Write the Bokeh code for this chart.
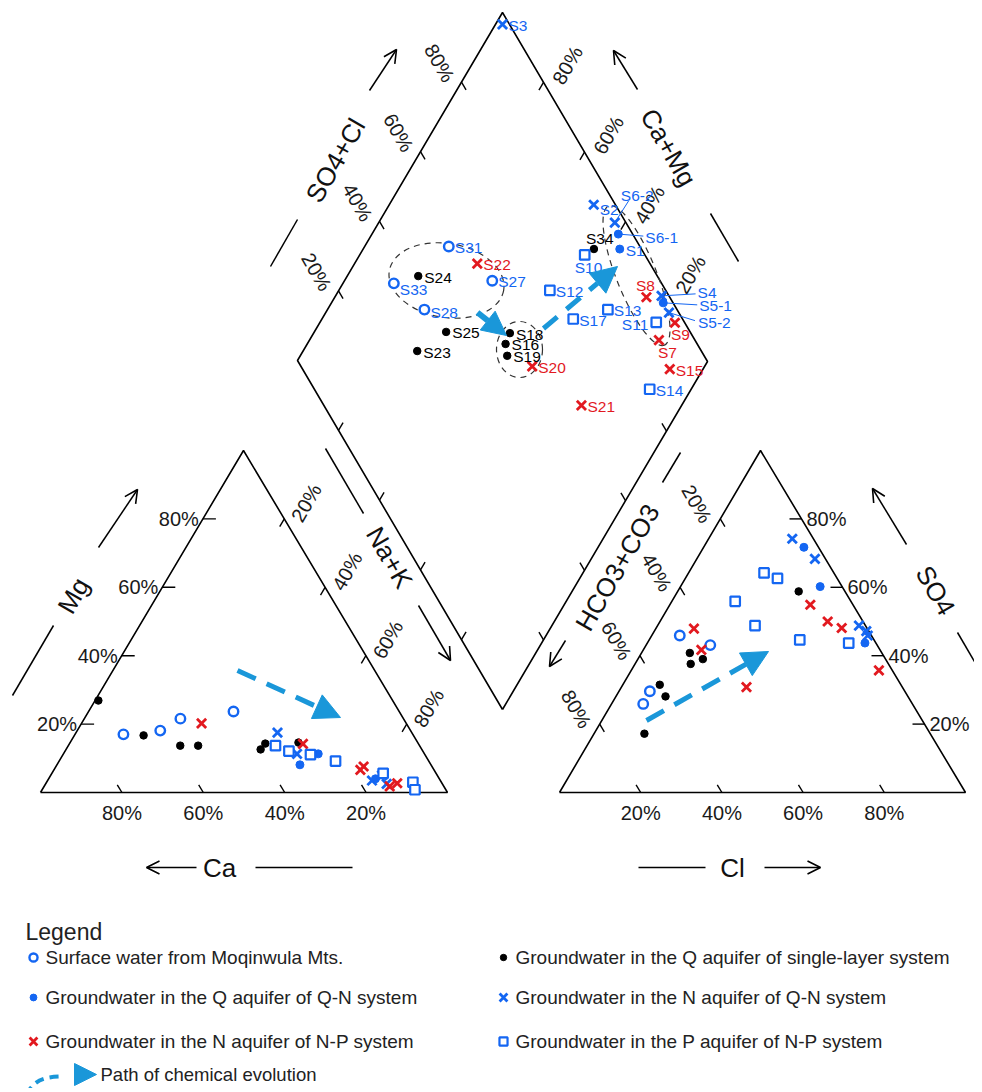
import math
import numpy as np
from bokeh.plotting import figure
from bokeh.models import Range1d, Arrow, NormalHead, OpenHead
from bokeh.core.properties import value
from bokeh.embed import file_html
from bokeh.resources import INLINE

# ---------------- data ----------------
group_keys = ["surface", "q_single", "q_qn", "n_qn", "n_np", "p_np"]
group_names = {
    "surface": "Surface water from Moqinwula Mts.",
    "q_single": "Groundwater in the Q aquifer of single-layer system",
    "q_qn": "Groundwater in the Q aquifer of Q-N system",
    "n_qn": "Groundwater in the N aquifer of Q-N system",
    "n_np": "Groundwater in the N aquifer of N-P system",
    "p_np": "Groundwater in the P aquifer of N-P system",
}

# cation triangle: Ca %, Mg % (Na+K = rest)
cation_ca = {
    "surface": [71.1, 61.5, 54.8, 40.7],
    "q_single": [72.3, 66.3, 58.8, 54.4, 39.6, 37.6, 29.3],
    "q_qn": [26.1, 32.2, 15.7],
    "n_qn": [33.0, 31.3, 16.8, 13.7, 13.6],
    "n_np": [50.3, 28.4, 18.1, 16.8, 13.3, 11.0],
    "p_np": [35.4, 32.9, 28.1, 22.9, 13.0, 7.0, 7.6],
}
cation_mg = {
    "surface": [17.0, 18.1, 21.6, 23.7],
    "q_single": [26.9, 16.7, 13.7, 13.7, 12.6, 14.3, 14.6],
    "q_qn": [11.3, 8.1, 4.0],
    "n_qn": [17.5, 11.3, 3.5, 2.5, 5.0],
    "n_np": [20.2, 14.2, 6.6, 7.6, 1.8, 2.7],
    "p_np": [13.7, 12.1, 11.1, 9.2, 5.6, 3.0, 0.8],
}

# anion triangle: Cl %, SO4 % (HCO3+CO3 = rest)
anion_cl = {
    "surface": [6.9, 15.8, 7.6, 7.8],
    "q_single": [29.8, 11.9, 16.0, 13.7, 9.1, 12.2, 12.4],
    "q_qn": [24.7, 34.4, 53.6],
    "n_qn": [20.6, 29.1, 49.6, 52.2, 53.2],
    "n_np": [9.4, 14.3, 30.8, 34.6, 41.3, 45.7, 61.0],
    "p_np": [18.6, 22.7, 15.6, 24.0, 37.1, 49.6],
}
anion_so4 = {
    "surface": [45.9, 43.1, 29.6, 25.9],
    "q_single": [58.8, 40.8, 39.0, 37.6, 31.5, 28.1, 17.2],
    "q_qn": [71.7, 60.2, 43.7],
    "n_qn": [74.2, 68.3, 48.8, 47.2, 45.9],
    "n_np": [47.9, 41.7, 30.8, 54.9, 50.0, 48.1, 35.7],
    "p_np": [64.2, 62.6, 55.9, 48.8, 44.6, 43.7],
}

# diamond: SO4+Cl %, Ca+Mg %
sample_labels = ["S1", "S2", "S3", "S4", "S5-1", "S5-2", "S6-1", "S6-2", "S7", "S8",
                 "S9", "S10", "S11", "S12", "S13", "S14", "S15", "S16", "S17", "S18",
                 "S19", "S20", "S21", "S22", "S23", "S24", "S25", "S27", "S28", "S31",
                 "S33", "S34"]
sample_groups = ["q_qn", "n_qn", "n_qn", "n_qn", "q_qn", "n_qn", "q_qn", "n_qn", "n_np", "n_np",
                 "n_np", "p_np", "p_np", "p_np", "p_np", "p_np", "n_np", "q_single", "p_np", "q_single",
                 "q_single", "n_np", "n_np", "n_np", "q_single", "q_single", "q_single", "surface", "surface", "surface",
                 "surface", "q_single"]
sample_so4cl = [94.7, 94.7, 98.3, 98.2, 97.6, 97.6, 96.5, 97.3, 91.2, 94.3,
                97.6, 85.3, 93.1, 71.7, 83.1, 81.9, 89.7, 53.2, 73.3, 55.8,
                51.9, 56.5, 62.9, 57.8, 30.6, 41.6, 40.4, 59.0, 38.3, 53.3,
                34.6, 88.4]
sample_camg = [37.5, 50.2, 98.3, 20.6, 19.2, 16.4, 40.0, 42.5, 14.9, 24.1,
               13.5, 45.2, 18.1, 48.6, 31.7, 10.1, 8.1, 51.7, 38.8, 52.2,
               49.6, 42.0, 24.4, 70.1, 72.2, 82.7, 67.9, 64.0, 76.4, 79.5,
               87.6, 43.8]

tick_values = [20, 40, 60, 80]
tick_texts = ["20%", "40%", "60%", "80%"]

# ---------------- styles / layout ----------------
BLUE = "#1466f2"
RED = "#e2191f"
ARROW_BLUE = "#1a97d9"
FONT = value("Liberation Sans")

STYLE = {
    "surface": dict(marker="circle", size=9.5, fill_color="white", line_color=BLUE, line_width=2.4),
    "q_single": dict(marker="circle", size=7.5, fill_color="black", line_color="black", line_width=1),
    "q_qn": dict(marker="circle", size=8, fill_color=BLUE, line_color=BLUE, line_width=1),
    "n_qn": dict(marker="x", size=13, fill_color=None, line_color=BLUE, line_width=2.8),
    "n_np": dict(marker="x", size=13, fill_color=None, line_color=RED, line_width=2.8),
    "p_np": dict(marker="square", size=9.5, fill_color="white", line_color=BLUE, line_width=2.2),
}
TEXT_COLOR = {"surface": BLUE, "q_single": "black", "q_qn": BLUE, "n_qn": BLUE, "n_np": RED, "p_np": BLUE}

# triangle / diamond vertices in page pixels
CA, NA, MG = (40, 792), (447, 792), (243, 450)
HC, CL, SO = (559, 792), (965, 792), (760, 450)
DB, DL, DR = (502, 709), (297, 360), (707, 361)
DT = (DL[0] + DR[0] - DB[0], DL[1] + DR[1] - DB[1])

W, H = 974, 1088
p = figure(width=W, height=H, x_range=Range1d(0, W), y_range=Range1d(-H, 0),
           output_backend="svg", toolbar_location=None, min_border=0,
           x_axis_location=None, y_axis_location=None)
p.grid.visible = False
p.outline_line_color = None
p.background_fill_color = "white"


def Y(v):
    return [-a for a in v] if isinstance(v, (list, tuple, np.ndarray)) else -v


def bary(wa, wb, wc, A, B, C):
    wa, wb, wc = np.asarray(wa, float), np.asarray(wb, float), np.asarray(wc, float)
    x = (wa * A[0] + wb * B[0] + wc * C[0]) / 100.0
    y = (wa * A[1] + wb * B[1] + wc * C[1]) / 100.0
    return x, y


def diamond(s, c):
    s, c = np.asarray(s, float) / 100.0, np.asarray(c, float) / 100.0
    x = DB[0] + s * (DR[0] - DB[0]) + c * (DL[0] - DB[0])
    y = DB[1] + s * (DR[1] - DB[1]) + c * (DL[1] - DB[1])
    return x, y


def unit(a, b):
    dx, dy = b[0] - a[0], b[1] - a[1]
    n = math.hypot(dx, dy)
    return dx / n, dy / n


def draw_markers(xs, ys, key):
    st = STYLE[key]
    p.scatter(list(xs), Y(list(ys)), **st)


# ---------------- frames ----------------
for verts in [(CA, NA, MG, CA), (HC, CL, SO, HC), (DB, DR, DT, DL, DB)]:
    p.line([v[0] for v in verts], Y([v[1] for v in verts]), line_color="black", line_width=1.6)

# ---------------- ticks and tick labels ----------------
tick_xs, tick_ys = [], []
lab = {"x": [], "y": [], "t": [], "a": [], "align": []}


def add_tick(pt, d, ln):
    tick_xs.append([pt[0], pt[0] + d[0] * ln])
    tick_ys.append(Y([pt[1], pt[1] + d[1] * ln]))


def add_label(x, y, t, ang, align="center"):
    lab["x"].append(x); lab["y"].append(-y); lab["t"].append(t)
    lab["a"].append(math.radians(ang)); lab["align"].append(align)


for v, t in zip(tick_values, tick_texts):
    w = 100 - v
    # Ca (base of left triangle)
    x, y = bary(v, w, 0, CA, NA, MG)
    add_tick((x, y), unit(NA, MG), 9)
    add_label(x, 812, t, 0)
    # Mg (left edge)
    x, y = bary(w, 0, v, CA, NA, MG)
    add_tick((x, y), (1, 0), 13)
    add_label(x - 4, y, t, 0, "right")
    # Na+K (right edge)
    x, y = bary(0, v, w, CA, NA, MG)
    add_tick((x, y), unit(MG, CA), 9)
    add_label(x + 22, y - 16, t, 60)
    # Cl (base of right triangle)
    x, y = bary(w, v, 0, HC, CL, SO)
    add_tick((x, y), unit(CL, SO), 9)
    add_label(x, 812, t, 0)
    # SO4 (right edge)
    x, y = bary(0, w, v, HC, CL, SO)
    add_tick((x, y), (-1, 0), 12)
    add_label(x + 5, y, t, 0, "left")
    # HCO3+CO3 (left edge)
    x, y = bary(v, 0, w, HC, CL, SO)
    add_tick((x, y), unit(SO, CL), 9)
    add_label(x - 23.5, y - 15, t, -60)
    # diamond upper-left: SO4+Cl
    x, y = diamond(v, 100)
    add_tick((x, y), unit(DL, DB), 9)
    add_label(x - 22, y - 19, t, -60)
    # diamond upper-right: Ca+Mg
    x, y = diamond(100, v)
    add_tick((x, y), unit(DR, DB), 9)
    add_label(x + 24, y - 17, t, 60)
    # diamond lower edges (ticks only)
    x, y = diamond(0, v)
    add_tick((x, y), unit(DB, DR), 9)
    x, y = diamond(v, 0)
    add_tick((x, y), unit(DB, DL), 9)

p.multi_line(tick_xs, tick_ys, line_color="black", line_width=1.4)
for al in ("center", "left", "right"):
    idx = [i for i, a in enumerate(lab["align"]) if a == al]
    if idx:
        p.text(x=[lab["x"][i] for i in idx], y=[lab["y"][i] for i in idx],
               text=[lab["t"][i] for i in idx], angle=[lab["a"][i] for i in idx],
               text_font=FONT, text_font_size="20px", text_align=al,
               text_baseline="middle", text_color="#1a1a1a")

# ---------------- axis titles with lines and arrows ----------------
titles = [
    ("Mg", (73, 595), 60, ((12, 695), (53, 625)), ((98, 547), (137, 489))),
    ("Na+K", (389, 557), -60, ((325, 448), (363, 513)), ((418, 605), (450, 660))),
    ("Ca", (219, 867), 0, ((255, 867), (352, 867)), ((196, 867), (146, 867))),
    ("Cl", (732, 867), 0, ((638, 867), (705, 867)), ((764, 867), (820, 867))),
    ("SO4+Cl", (335, 160), 60, ((270, 266), (297, 219)), ((369, 90), (396, 49))),
    ("Ca+Mg", (668, 147), -60, ((710, 213), (738, 261)), ((637, 89), (613, 50))),
    ("HCO3+CO3", (617, 567), 60, ((662, 482), (680, 452)), ((565, 640), (549, 666))),
    ("SO4", (935, 590), -60, ((957, 632), (985, 680)), ((906, 544), (872, 488))),
]
for txt, (cx, cy), ang, ln, ar in titles:
    p.text(x=[cx], y=[-cy], text=[txt], angle=[math.radians(ang)], text_font=FONT,
           text_font_size="26px", text_align="center", text_baseline="middle", text_color="#111111")
    p.line([ln[0][0], ln[1][0]], [-ln[0][1], -ln[1][1]], line_color="black", line_width=1.5)
    p.add_layout(Arrow(end=OpenHead(size=13, line_width=1.6, line_color="black"),
                       x_start=ar[0][0], y_start=-ar[0][1], x_end=ar[1][0], y_end=-ar[1][1],
                       line_color="black", line_width=1.5))

# ---------------- ellipses in diamond ----------------
p.ellipse(x=[446, 519, 636], y=[-280, -349, -275], width=[116, 46, 150], height=[74, 56, 40],
          angle=[-0.17, 0.0, -1.19], fill_color=None, line_color="#333333",
          line_width=1.2, line_dash="6 5")

# ---------------- evolution arrows ----------------
def dashed_arrow(x0, y0, x1, y1, head=26, dash="20 12", lw=5):
    p.add_layout(Arrow(end=NormalHead(size=head, fill_color=ARROW_BLUE, line_color=ARROW_BLUE),
                       x_start=x0, y_start=-y0, x_end=x1, y_end=-y1,
                       line_color=ARROW_BLUE, line_width=lw, line_dash=dash))

dashed_arrow(237, 670, 340, 717)
dashed_arrow(646, 720, 768, 651)
dashed_arrow(543, 328, 617, 266, head=26, dash="18 12")
p.add_layout(Arrow(end=NormalHead(size=24, fill_color=ARROW_BLUE, line_color=ARROW_BLUE),
                   x_start=477, y_start=-312, x_end=506, y_end=-335,
                   line_color=ARROW_BLUE, line_width=6))

# ---------------- points ----------------
for k in group_keys:
    ca = np.array(cation_ca[k]); mg = np.array(cation_mg[k])
    x, y = bary(ca, 100 - ca - mg, mg, CA, NA, MG)
    draw_markers(x, y, k)
    cl = np.array(anion_cl[k]); so4 = np.array(anion_so4[k])
    x, y = bary(100 - cl - so4, cl, so4, HC, CL, SO)
    draw_markers(x, y, k)

dx_all, dy_all = diamond(sample_so4cl, sample_camg)
for k in group_keys:
    idx = [i for i, g in enumerate(sample_groups) if g == k]
    draw_markers(dx_all[idx], dy_all[idx], k)

# sample labels
label_offsets = {
    "S2": (6, 5, "left"), "S6-2": (6, -27, "left"), "S6-1": (27, 3, "left"),
    "S34": (-8, -11, "left"), "S10": (-10, 13, "left"), "S11": (-8, 2, "right"),
    "S8": (-1, -12, "center"), "S4": (36, -3, "left"), "S5-1": (36, 3, "left"),
    "S5-2": (29, 10, "left"), "S9": (-4, 12, "left"), "S7": (-1, 12, "left"),
    "S33": (6, 6, "left"), "S28": (6, 3, "left"),
}
leaders = {"S6-2": (14, -22), "S6-1": (25, 2), "S4": (34, -2), "S5-1": (34, 2), "S5-2": (26, 8)}

lx, ly = [], []
for i, name in enumerate(sample_labels):
    if name in leaders:
        ox, oy = leaders[name]
        lx.append([dx_all[i], dx_all[i] + ox]); ly.append([-dy_all[i], -(dy_all[i] + oy)])
p.multi_line(lx, ly, line_color=BLUE, line_width=1)

for al in ("left", "right", "center"):
    xs, ys, ts, cs = [], [], [], []
    for i, name in enumerate(sample_labels):
        ox, oy, a = label_offsets.get(name, (6, 1, "left"))
        if a != al:
            continue
        xs.append(dx_all[i] + ox); ys.append(-(dy_all[i] + oy)); ts.append(name)
        cs.append(TEXT_COLOR[sample_groups[i]])
    if xs:
        p.text(x=xs, y=ys, text=ts, text_color=cs, text_font=FONT, text_font_size="15.5px",
               text_align=al, text_baseline="middle")

# ---------------- legend ----------------
p.text(x=[25], y=[-931], text=["Legend"], text_font=FONT, text_font_size="23px",
       text_align="left", text_baseline="middle", text_color="#222222")
legend_layout = [("surface", 33, 957), ("q_single", 503, 957), ("q_qn", 33, 997),
                 ("n_qn", 503, 997), ("n_np", 33, 1041), ("p_np", 503, 1041)]
for k, mx, my in legend_layout:
    st = dict(STYLE[k])
    st["size"] = st["size"] * 0.85
    p.scatter([mx], [-my], **st)
    p.text(x=[mx + 12], y=[-my], text=[group_names[k]], text_font=FONT, text_font_size="19px",
           text_align="left", text_baseline="middle", text_color="#222222")

p.bezier(x0=[26], y0=[-1094], x1=[64], y1=[-1076], cx0=[34], cy0=[-1079], cx1=[44], cy1=[-1076],
         line_color=ARROW_BLUE, line_width=4, line_dash="9 6")
p.add_layout(Arrow(end=NormalHead(size=22, fill_color=ARROW_BLUE, line_color=ARROW_BLUE),
                   x_start=70, y_start=-1074, x_end=96, y_end=-1074,
                   line_color=ARROW_BLUE, line_width=0, line_alpha=0))
p.text(x=[100], y=[-1074], text=["Path of chemical evolution"], text_font=FONT,
       text_font_size="18.5px", text_align="left", text_baseline="middle", text_color="#222222")

open("out.html", "w").write(file_html(p, INLINE))
